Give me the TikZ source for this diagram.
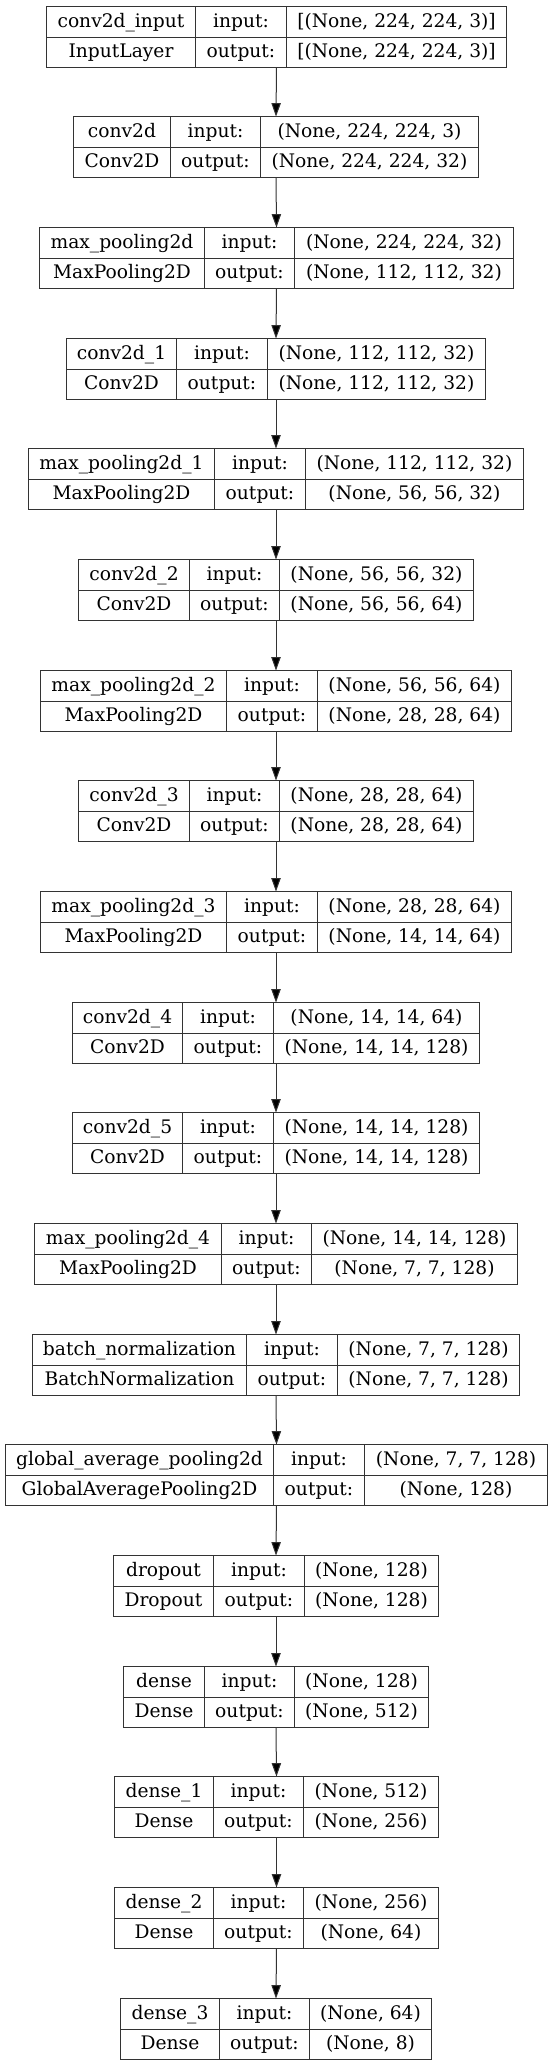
\documentclass[tikz,border=0pt]{standalone}
\usepackage{fontspec}
\setmainfont{DejaVu Serif}
\usetikzlibrary{arrows.meta}

\begin{document}
\begin{tikzpicture}[x=0.75pt,y=-0.75pt,
	layerbox/.style={draw=black!80,line width=0.75pt,inner sep=0pt,outer sep=0pt,minimum height=61*0.75pt},
	cell/.style={inner sep=0pt,text height=11pt,text depth=3pt,font=\fontsize{14}{16}\selectfont},
	rule/.style={draw=black!80,line width=0.75pt},
	flow/.style={draw=black!80,line width=0.75pt,-{Triangle[length=10pt,width=7pt,fill=black]}}]
\useasboundingbox (0,0) rectangle (552,2065);
% one table per layer: name | input: | shape, class | output: | shape
\foreach \i/\nm/\cls/\inp/\outp/\l/\da/\db in {
	0/conv2d\_input/InputLayer/{[(None, 224, 224, 3)]}/{[(None, 224, 224, 3)]}/45.7/194.9/286.1,
	1/conv2d/Conv2D/{(None, 224, 224, 3)}/{(None, 224, 224, 32)}/72.8/169.6/260.4,
	2/max\_pooling2d/MaxPooling2D/{(None, 224, 224, 32)}/{(None, 112, 112, 32)}/38.7/203.7/294.2,
	3/conv2d\_1/Conv2D/{(None, 112, 112, 32)}/{(None, 112, 112, 32)}/65.8/176.3/267.4,
	4/max\_pooling2d\_1/MaxPooling2D/{(None, 112, 112, 32)}/{(None, 56, 56, 32)}/27.8/214.3/305.1,
	5/conv2d\_2/Conv2D/{(None, 56, 56, 32)}/{(None, 56, 56, 64)}/77.8/188.6/279,
	6/max\_pooling2d\_2/MaxPooling2D/{(None, 56, 56, 64)}/{(None, 28, 28, 64)}/39.8/226.2/317,
	7/conv2d\_3/Conv2D/{(None, 28, 28, 64)}/{(None, 28, 28, 64)}/77.8/188.6/279,
	8/max\_pooling2d\_3/MaxPooling2D/{(None, 28, 28, 64)}/{(None, 14, 14, 64)}/39.8/226.2/317,
	9/conv2d\_4/Conv2D/{(None, 14, 14, 64)}/{(None, 14, 14, 128)}/72.1/182.3/272.7,
	10/conv2d\_5/Conv2D/{(None, 14, 14, 128)}/{(None, 14, 14, 128)}/72.1/182.3/272.7,
	11/max\_pooling2d\_4/MaxPooling2D/{(None, 14, 14, 128)}/{(None, 7, 7, 128)}/33.8/220.6/311,
	12/batch\_normalization/BatchNormalization/{(None, 7, 7, 128)}/{(None, 7, 7, 128)}/32/246.3/336.7,
	13/global\_average\_pooling2d/GlobalAveragePooling2D/{(None, 7, 7, 128)}/{(None, 128)}/4.6/273/363.8,
	14/dropout/Dropout/{(None, 128)}/{(None, 128)}/113/213.2/303.7,
	15/dense/Dense/{(None, 128)}/{(None, 512)}/122.8/203.7/294.2,
	16/dense\_1/Dense/{(None, 512)}/{(None, 256)}/113.7/212.5/303.3,
	17/dense\_2/Dense/{(None, 256)}/{(None, 64)}/113.7/212.5/303.3,
	18/dense\_3/Dense/{(None, 64)}/{(None, 8)}/120/218.5/309.3}
{
	% snap every rule to a pixel centre
	\pgfmathsetmacro\T{round(5.7+110.67*\i)+0.5}
	\pgfmathsetmacro\L{round(\l)+0.5}
	\pgfmathsetmacro\R{round(551.2-\l)+0.5}
	\pgfmathsetmacro\Da{round(\da)+0.5}
	\pgfmathsetmacro\Db{round(\db)+0.5}
	\node[layerbox,minimum width={(\R-\L)*0.75pt}] (b\i) at ({(\L+\R)/2},\T+30.5) {};
	\path[rule] (\L,\T+31) -- (\R,\T+31) (\Da,\T) -- (\Da,\T+61) (\Db,\T) -- (\Db,\T+61);
	\node[cell] (b\i-name) at ({(\L+\Da)/2},\T+15.4) {\nm};
	\node[cell] (b\i-class) at ({(\L+\Da)/2},\T+46.1) {\cls};
	\node[cell] (b\i-inkey) at ({(\Da+\Db)/2},\T+15.4) {input:};
	\node[cell] (b\i-outkey) at ({(\Da+\Db)/2},\T+46.1) {output:};
	\node[cell] (b\i-in) at ({(\Db+\R)/2},\T+15.4) {\inp};
	\node[cell] (b\i-out) at ({(\Db+\R)/2},\T+46.1) {\outp};
}
% arrows down the stack
\foreach \i in {0,...,17}{
	\pgfmathtruncatemacro\j{\i+1}
	\path[flow] (b\i.south) -- (b\j.north);
}
\end{tikzpicture}
\end{document}
